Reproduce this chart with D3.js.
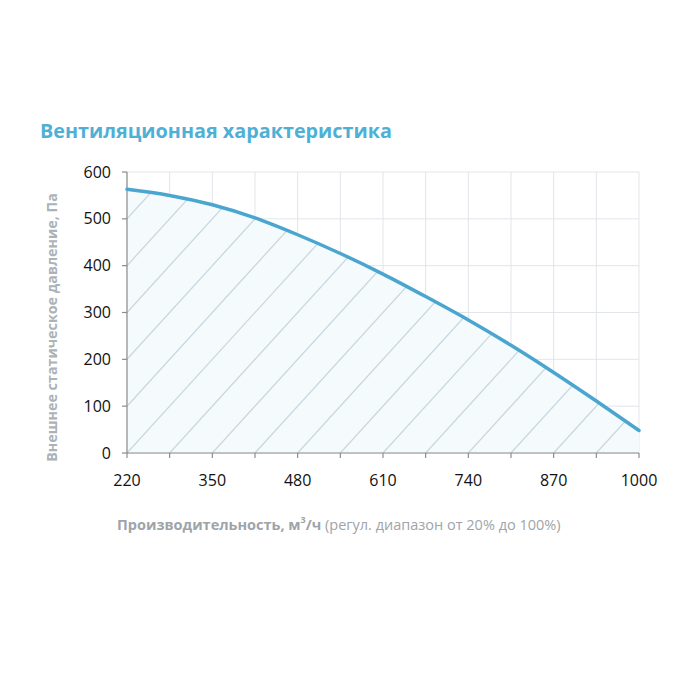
<!DOCTYPE html>
<html>
<head>
<meta charset="utf-8">
<script src="https://cdn.jsdelivr.net/npm/d3@7.9.0/dist/d3.min.js"></script>
<style>
  body { margin: 0; background: #fff; }
  svg { display: block; }
</style>
</head>
<body>
<svg id="chart" width="700" height="700"></svg>
<script>
// airflow, m3/h
const flow = [220, 285, 350, 415, 480, 545, 610, 675, 740, 805, 870, 935, 1000];
// external static pressure, Pa
const pressure = [563, 550, 530, 502, 466, 426, 382, 334, 284, 230, 172, 111, 48];

const xTicks = [220, 350, 480, 610, 740, 870, 1000];
const xMinor = [220, 285, 350, 415, 480, 545, 610, 675, 740, 805, 870, 935, 1000];
const yTicks = [0, 100, 200, 300, 400, 500, 600];

const titleText = "Вентиляционная характеристика";
const yTitle = "Внешнее статическое давление, Па";

const svg = d3.select("#chart");
const font = "'Open Sans', 'DejaVu Sans', sans-serif";

const margin = { left: 127, right: 61, top: 172, bottom: 247 };
const W = 700, H = 700;

const x = d3.scaleLinear().domain([220, 1000]).range([margin.left, W - margin.right]);
const y = d3.scaleLinear().domain([0, 600]).range([H - margin.bottom, margin.top]);

// title
svg.append("text")
  .attr("x", 40).attr("y", 138)
  .attr("font-family", font).attr("font-weight", "bold")
  .attr("font-size", 19.8).attr("fill", "#4fb0d6")
  .text(titleText);

// grid
const grid = svg.append("g");
grid.selectAll("line.v").data(xMinor).enter().append("line")
  .attr("x1", d => x(d)).attr("x2", d => x(d))
  .attr("y1", y(0)).attr("y2", y(600))
  .attr("stroke", "#e1e5ea").attr("stroke-width", 1);
grid.selectAll("line.h").data(yTicks).enter().append("line")
  .attr("x1", x(220)).attr("x2", x(1000))
  .attr("y1", d => y(d)).attr("y2", d => y(d))
  .attr("stroke", "#e1e5ea").attr("stroke-width", 1);

// area under curve with hatch
const pts = flow.map((f, i) => [f, pressure[i]]);
const area = d3.area()
  .x(d => x(d[0])).y0(y(0)).y1(d => y(d[1]))
  .curve(d3.curveMonotoneX);
const line = d3.line()
  .x(d => x(d[0])).y(d => y(d[1]))
  .curve(d3.curveMonotoneX);

svg.append("clipPath").attr("id", "under")
  .append("path").attr("d", area(pts));

svg.append("path").attr("d", area(pts)).attr("fill", "#f5fbfd");

// diagonal hatch: one grid cell (65 m3/h x 100 Pa) per step
const hatchStarts = d3.range(-10, 13).map(k => 220 + 65 * k);
svg.append("g").attr("clip-path", "url(#under)")
  .selectAll("line").data(hatchStarts).enter().append("line")
  .attr("x1", d => x(d)).attr("y1", y(0))
  .attr("x2", d => x(d + 65 * 6)).attr("y2", y(600))
  .attr("stroke", "#c9d7e0").attr("stroke-width", 1.3);

// axes
const axes = svg.append("g").attr("stroke", "#8c8c8c").attr("stroke-width", 1.2);
axes.append("line").attr("x1", x(220)).attr("x2", x(220)).attr("y1", y(0)).attr("y2", y(600));
axes.append("line").attr("x1", x(220)).attr("x2", x(1000)).attr("y1", y(0)).attr("y2", y(0));
axes.selectAll("line.yt").data(yTicks).enter().append("line")
  .attr("x1", x(220) - 5).attr("x2", x(220)).attr("y1", d => y(d)).attr("y2", d => y(d));
axes.selectAll("line.xt").data(xMinor).enter().append("line")
  .attr("x1", d => x(d)).attr("x2", d => x(d)).attr("y1", y(0)).attr("y2", y(0) + 5);

// curve
svg.append("path").attr("d", line(pts))
  .attr("fill", "none").attr("stroke", "#4aa6cf").attr("stroke-width", 3.5)
  .attr("stroke-linecap", "round");

// tick labels
svg.selectAll("text.yl").data(yTicks).enter().append("text")
  .attr("x", 111).attr("y", d => y(d)).attr("dy", "0.35em")
  .attr("text-anchor", "end").attr("font-family", font).attr("font-size", 16)
  .attr("fill", "#111").text(d => d);
svg.selectAll("text.xl").data(xTicks).enter().append("text")
  .attr("x", d => x(d)).attr("y", y(0) + 33)
  .attr("text-anchor", "middle").attr("font-family", font).attr("font-size", 16)
  .attr("fill", "#111").text(d => d);

// y title
svg.append("text")
  .attr("transform", `translate(57,${(y(0) + y(600)) / 2 + 15}) rotate(-90)`)
  .attr("text-anchor", "middle").attr("font-family", font)
  .attr("font-weight", "bold").attr("font-size", 14.3)
  .attr("fill", "#abb2b8").text(yTitle);

// x title
const xt = svg.append("text")
  .attr("x", 117).attr("y", 530)
  .attr("font-family", font).attr("font-size", 14.5).attr("fill", "#9ea4a9");
xt.append("tspan").attr("font-weight", "bold").text("Производительность, м");
xt.append("tspan").attr("font-weight", "bold").attr("font-size", 9).attr("dy", -7).text("3");
xt.append("tspan").attr("font-weight", "bold").attr("dy", 7).text("/ч");
xt.append("tspan").text(" (регул. диапазон от 20% до 100%)");
</script>
</body>
</html>
